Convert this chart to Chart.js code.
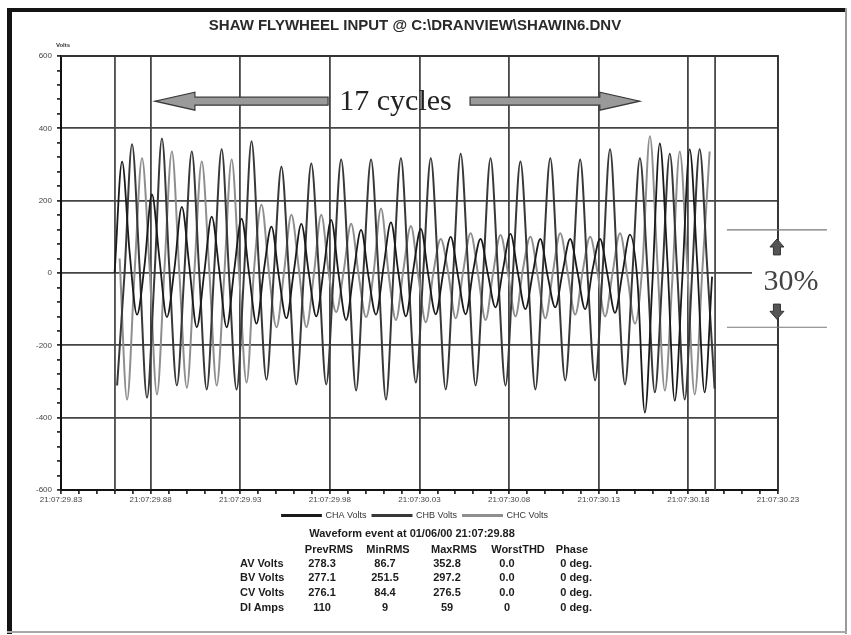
<!DOCTYPE html>
<html><head><meta charset="utf-8">
<script src="https://cdn.jsdelivr.net/npm/chart.js@4.4.1/dist/chart.umd.min.js"></script>
<style>
html,body{margin:0;padding:0;background:#fff;}
#page{position:relative;width:851px;height:635px;overflow:hidden;background:#fff;}
#chart{position:absolute;left:0;top:0;}
.fr{position:absolute;}
.t{position:absolute;font:bold 11px "Liberation Sans",Arial,sans-serif;color:#1c1c1c;white-space:nowrap;line-height:12px;}
</style></head><body>
<div id="page">
<canvas id="chart" width="851" height="530"></canvas>
<div class="fr" style="left:7px;top:8px;width:5px;height:626px;background:#141414"></div>
<div class="fr" style="left:7px;top:8px;width:839px;height:4px;background:#141414"></div>
<div class="fr" style="left:845px;top:8px;width:2px;height:626px;background:#9a9a9a"></div>
<div class="fr" style="left:7px;top:631px;width:840px;height:2px;background:#a8a8a8"></div>
<div id="table"></div>
</div>
<script>
// ---------- data ----------
const chartTitle = 'SHAW FLYWHEEL INPUT @ C:\\DRANVIEW\\SHAWIN6.DNV';
const seriesNames = ['CHA Volts', 'CHB Volts', 'CHC Volts'];
const timeTickLabels = ['21:07:29.83','21:07:29.88','21:07:29.93','21:07:29.98','21:07:30.03','21:07:30.08','21:07:30.13','21:07:30.18','21:07:30.23'];
const cycleMs = 1000 / 60;          // 60 Hz
const sampleStepMs = cycleMs / 4;   // samples read at quarter cycles
const startMsA = 29.9, startMsB = 31.3, startMsC = 32.7;
// CHA: up-zero, peak, down-zero, trough per cycle
const chaVolts = [
  0, 308, 60, -115,   20, 217, 40, -122,   10, 183, 20, -150,   0, 156, 10, -150,
  5, 150, 0, -140,    10, 128, -10, -125,  5, 136, 0, -120,     10, 147, -5, -130,
  0, 119, -10, -115,  15, 140, 0, -120,    10, 122, -5, -114,   0, 100, -10, -114,
  5, 94, -5, -95,     10, 108, 0, -100,    0, 94, -10, -95,     5, 94, 0, -100,
  10, 94, -5, -110,   0, 106, -20, -386,   -30, 358, 40, -353,  -20, 342, 30, -330,
  -10
];
// CHB: trough, up-zero, peak, down-zero per cycle
const chbVolts = [
  -311, 0, 356, 20,   -345, -10, 372, 10,  -311, 0, 336, 0,    -322, 10, 342, -10,
  -322, 0, 364, 15,   -295, 5, 294, 0,     -308, -5, 303, 10,  -308, 0, 314, 5,
  -325, 10, 314, 0,   -350, 0, 317, -5,    -303, 5, 317, 0,    -322, 0, 330, 10,
  -311, -5, 317, 0,   -311, 0, 308, 5,     -322, 10, 317, 0,   -297, 0, 314, -10,
  -297, 5, 342, 0,    -308, 0, 317, 10,    -330, -10, 330, 0,  -350, 0, 342, 20,
  -320
];
// CHC: down-zero, trough, up-zero, peak per cycle
const chcVolts = [
  40, -350, 0, 317,   20, -336, 10, 336,   0, -317, 0, 308,    10, -311, -10, 314,
  0, -303, 10, 189,   0, -150, 0, 161,     10, -150, -5, 161,  0, -108, 5, 136,
  -5, -122, 0, 178,   0, -130, 10, 130,    -10, -136, 0, 94,   0, -125, 5, 110,
  -5, -130, 0, 105,   0, -120, 10, 100,    -10, -125, 0, 110,  0, -115, 5, 100,
  0, -120, 0, 110,    -10, -140, 20, 378,  30, -325, -20, 336, 20, -336, 0, 336
];
const cursorTimesMs = [30.1, 364.9];
// table
const tableTitle = 'Waveform event at 01/06/00 21:07:29.88';
const tableHeaders = ['PrevRMS', 'MinRMS', 'MaxRMS', 'WorstTHD', 'Phase'];
const tableRows = ['AV Volts', 'BV Volts', 'CV Volts', 'DI Amps'];
const prevRms = ['278.3', '277.1', '276.1', '110'];
const minRms = ['86.7', '251.5', '84.4', '9'];
const maxRms = ['352.8', '297.2', '276.5', '59'];
const worstThd = ['0.0', '0.0', '0.0', '0'];
const phaseDeg = ['0 deg.', '0 deg.', '0 deg.', '0 deg.'];
// annotation texts
const cyclesText = '17 cycles';
const pctText = '30%';

// ---------- build ----------
const toPts = (vals, start) => vals.map((v, i) => ({x: start + i * sampleStepMs, y: v}));
const FONT = '"Liberation Sans", Arial, sans-serif';
const SERIF = '"Liberation Serif", "DejaVu Serif", serif';

const ANN = {
  arrowY: 475, leftArrow: [149, 52.4], rightArrow: [228.2, 322.9], cyclesX: 186.6,
  lineTop: 119, lineBot: -150, lineX: [371.5, 427.3], arrowX: 399.4,
  upArrow: [50, 94], downArrow: [-86, -128], pctX: 407.3, pctY: -25,
  box: [385.5, 429, 50, -86]
};

function hArrow(ctx, xTail, xTip, yc, shaft, head, headLen) {
  const d = Math.sign(xTip - xTail), xb = xTip - d * headLen;
  ctx.beginPath();
  ctx.moveTo(xTail, yc - shaft / 2); ctx.lineTo(xb, yc - shaft / 2); ctx.lineTo(xb, yc - head / 2);
  ctx.lineTo(xTip, yc); ctx.lineTo(xb, yc + head / 2); ctx.lineTo(xb, yc + shaft / 2);
  ctx.lineTo(xTail, yc + shaft / 2); ctx.closePath(); ctx.fill(); ctx.stroke();
}
function vArrow(ctx, xc, yTail, yTip, shaft, head, headLen) {
  const d = Math.sign(yTip - yTail), yb = yTip - d * headLen;
  ctx.beginPath();
  ctx.moveTo(xc - shaft / 2, yTail); ctx.lineTo(xc - shaft / 2, yb); ctx.lineTo(xc - head / 2, yb);
  ctx.lineTo(xc, yTip); ctx.lineTo(xc + head / 2, yb); ctx.lineTo(xc + shaft / 2, yb);
  ctx.lineTo(xc + shaft / 2, yTail); ctx.closePath(); ctx.fill(); ctx.stroke();
}

const overlay = {
  id: 'overlay',
  beforeDatasetsDraw(chart) {
    const {ctx, chartArea: ca, scales: {x}} = chart;
    ctx.save(); ctx.strokeStyle = '#4a4a4a'; ctx.lineWidth = 1.8;
    cursorTimesMs.forEach(t => { const px = x.getPixelForValue(t); ctx.beginPath(); ctx.moveTo(px, ca.top); ctx.lineTo(px, ca.bottom); ctx.stroke(); });
    ctx.restore();
  },
  afterDraw(chart) {
    const {ctx, chartArea: ca, scales: {x, y}} = chart;
    ctx.save();
    ctx.strokeStyle = '#333'; ctx.lineWidth = 1.8;
    ctx.beginPath(); ctx.moveTo(ca.left, ca.top); ctx.lineTo(ca.right, ca.top); ctx.lineTo(ca.right, ca.bottom); ctx.stroke();
    ctx.fillStyle = '#333'; ctx.font = 'bold 6px ' + FONT; ctx.textAlign = 'center'; ctx.textBaseline = 'middle';
    ctx.fillText('Volts', ca.left + 2, ca.top - 11);
    // 17 cycles
    const ay = y.getPixelForValue(ANN.arrowY);
    ctx.fillStyle = '#9a9a9a'; ctx.strokeStyle = '#3a3a3a'; ctx.lineWidth = 1.2;
    hArrow(ctx, x.getPixelForValue(ANN.leftArrow[0]), x.getPixelForValue(ANN.leftArrow[1]), ay, 8, 18, 40);
    hArrow(ctx, x.getPixelForValue(ANN.rightArrow[0]), x.getPixelForValue(ANN.rightArrow[1]), ay, 8, 18, 40);
    ctx.fillStyle = '#222'; ctx.font = '30px ' + SERIF; ctx.textAlign = 'center'; ctx.textBaseline = 'middle';
    ctx.fillText(cyclesText, x.getPixelForValue(ANN.cyclesX), ay + 1);
    // 30%
    const bx0 = x.getPixelForValue(ANN.box[0]), bx1 = x.getPixelForValue(ANN.box[1]);
    const by0 = y.getPixelForValue(ANN.box[2]), by1 = y.getPixelForValue(ANN.box[3]);
    ctx.fillStyle = '#fff'; ctx.fillRect(bx0, by0, bx1 - bx0, by1 - by0);
    ctx.strokeStyle = '#777'; ctx.lineWidth = 1.2;
    [ANN.lineTop, ANN.lineBot].forEach(v => { const py = y.getPixelForValue(v); ctx.beginPath(); ctx.moveTo(x.getPixelForValue(ANN.lineX[0]), py); ctx.lineTo(x.getPixelForValue(ANN.lineX[1]), py); ctx.stroke(); });
    const axp = x.getPixelForValue(ANN.arrowX);
    ctx.fillStyle = '#555'; ctx.strokeStyle = '#333'; ctx.lineWidth = 1;
    vArrow(ctx, axp, y.getPixelForValue(ANN.upArrow[0]), y.getPixelForValue(ANN.upArrow[1]), 7, 14, 8);
    vArrow(ctx, axp, y.getPixelForValue(ANN.downArrow[0]), y.getPixelForValue(ANN.downArrow[1]), 7, 14, 8);
    ctx.fillStyle = '#444'; ctx.font = '30px ' + SERIF;
    ctx.fillText(pctText, x.getPixelForValue(ANN.pctX), y.getPixelForValue(ANN.pctY));
    ctx.restore();
  }
};

const colors = ['#1a1a1a', '#383838', '#8e8e8e'];
const widths = [1.8, 2, 2];
const series = [toPts(chaVolts, startMsA), toPts(chbVolts, startMsB), toPts(chcVolts, startMsC)];
const gridCol = '#454545';

new Chart(document.getElementById('chart'), {
  type: 'line',
  data: {
    datasets: series.map((d, i) => ({
      label: seriesNames[i], data: d, borderColor: colors[i], backgroundColor: colors[i],
      borderWidth: widths[i], pointRadius: 0, cubicInterpolationMode: 'monotone', fill: false
    }))
  },
  options: {
    responsive: false, animation: false, devicePixelRatio: 1, events: [],
    layout: {padding: {left: 30, right: 51, top: 0, bottom: 0}},
    plugins: {
      title: {display: true, text: chartTitle, color: '#2a2a2a', font: {family: FONT, size: 15, weight: 'bold'}, padding: {top: 17, bottom: 21}},
      legend: {position: 'bottom', labels: {boxWidth: 39, boxHeight: 1, padding: 6, color: '#333', font: {family: FONT, size: 9}}},
      tooltip: {enabled: false}
    },
    scales: {
      x: {
        type: 'linear', min: 0, max: 400,
        afterFit: s => { s.height = 15; },
        border: {color: '#111', width: 2},
        grid: {color: c => (c.tick && c.tick.value % 50 === 0) ? gridCol : 'rgba(0,0,0,0)', lineWidth: 1.8, tickColor: '#333', tickLength: 4, drawTicks: true},
        ticks: {stepSize: 10, autoSkip: false, maxRotation: 0, minRotation: 0, padding: 1, color: '#444', font: {family: FONT, size: 8},
          callback: v => (v % 50 === 0 ? timeTickLabels[v / 50] : '')}
      },
      y: {
        min: -600, max: 600,
        afterFit: s => { s.width = 31; },
        border: {color: '#111', width: 2},
        grid: {color: c => (c.tick && c.tick.value % 200 === 0) ? gridCol : 'rgba(0,0,0,0)', lineWidth: 1.8, tickColor: '#333', tickLength: 4, drawTicks: true},
        ticks: {stepSize: 40, autoSkip: false, padding: 5, color: '#444', font: {family: FONT, size: 8},
          callback: v => (v % 200 === 0 ? String(v) : '')}
      },
      yPad: {
        position: 'right', display: true,
        afterFit: s => { s.width = 22; },
        grid: {display: false}, border: {display: false}, ticks: {display: false}
      }
    }
  },
  plugins: [overlay]
});

// ---------- table ----------
const tbl = document.getElementById('table');
function put(text, x, y, align) {
  const s = document.createElement('span'); s.className = 't'; s.textContent = text;
  s.style.left = x + 'px'; s.style.top = (y - 6) + 'px';
  s.style.transform = align === 'c' ? 'translateX(-50%)' : align === 'r' ? 'translateX(-100%)' : 'none';
  tbl.appendChild(s);
}
put(tableTitle, 412, 533, 'c');
const hdrX = [329, 388, 454, 518, 572];
tableHeaders.forEach((h, i) => put(h, hdrX[i], 549, 'c'));
const rowY = [563, 577, 592, 607];
tableRows.forEach((r, i) => {
  put(r, 240, rowY[i], 'l');
  put(prevRms[i], 322, rowY[i], 'c');
  put(minRms[i], 385, rowY[i], 'c');
  put(maxRms[i], 447, rowY[i], 'c');
  put(worstThd[i], 507, rowY[i], 'c');
  put(phaseDeg[i], 592, rowY[i], 'r');
});
</script>
</body></html>
